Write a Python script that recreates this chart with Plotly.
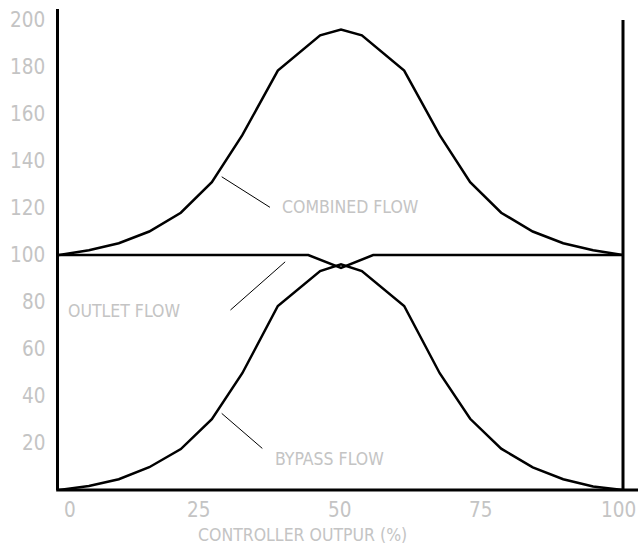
import plotly.graph_objects as go

# ---- data ----
controller_output = [0, 5.3, 10.6, 16.0, 21.6, 27.1, 32.5, 38.8, 46.3, 50,
                     53.7, 61.2, 67.5, 72.9, 78.4, 84.0, 89.4, 94.7, 100]
combined_flow = [100, 102, 105, 110, 118, 131, 151, 178.5, 193.5, 196,
                 193.5, 178.5, 151, 131, 118, 110, 105, 102, 100]
bypass_flow = [0, 1.7, 4.6, 9.7, 17.4, 30.1, 49.7, 78.3, 93.2, 96,
               93.2, 78.3, 49.7, 30.3, 17.6, 9.6, 4.6, 1.5, 0]
outlet_x = [0, 44.2, 50, 55.7, 100]
outlet_flow = [100, 100, 94.5, 100, 100]

x_ticks = [0, 25, 50, 75, 100]
y_ticks = [20, 40, 60, 80, 100, 120, 140, 160, 180, 200]

Y_MAX = 204.7
FRAME_TOP = 200

FONT = "DejaVu Sans Condensed, Liberation Sans Narrow, sans-serif"
GRAY = "#c4c4c4"
LINE = dict(color="black", width=2.5)

fig = go.Figure()
fig.add_trace(go.Scatter(x=controller_output, y=combined_flow, mode="lines",
                         line=LINE, hoverinfo="skip"))
fig.add_trace(go.Scatter(x=controller_output, y=bypass_flow, mode="lines",
                         line=LINE, hoverinfo="skip"))
fig.add_trace(go.Scatter(x=outlet_x, y=outlet_flow, mode="lines",
                         line=LINE, hoverinfo="skip"))

tick_font = dict(family=FONT, size=20.5, color=GRAY)
annotations = []
for v in y_ticks:
    annotations.append(dict(x=0, y=v, xref="x", yref="y", text=str(v),
                            showarrow=False, xanchor="right", yanchor="middle",
                            xshift=-12, font=tick_font))
for v in x_ticks:
    if v == x_ticks[0]:
        anchor, shift = "left", 3
    elif v == x_ticks[-1]:
        anchor, shift = "right", 15
    else:
        anchor, shift = "center", -2
    annotations.append(dict(x=v, y=0, xref="x", yref="y", text=str(v),
                            showarrow=False, xanchor=anchor, yanchor="middle",
                            xshift=shift, yshift=-20, font=tick_font))

label_font = dict(family=FONT, size=17.5, color=GRAY)
annotations += [
    dict(x=43.1, y=0, xref="x", yref="y", text="CONTROLLER OUTPUR (%)",
         showarrow=False, xanchor="center", yanchor="middle", yshift=-45, font=label_font),
    dict(x=39.2, y=120.4, xref="x", yref="y", text="COMBINED FLOW",
         showarrow=False, xanchor="left", yanchor="middle", font=label_font),
    dict(x=1.2, y=76.0, xref="x", yref="y", text="OUTLET FLOW",
         showarrow=False, xanchor="left", yanchor="middle", font=label_font),
    dict(x=37.9, y=13.3, xref="x", yref="y", text="BYPASS FLOW",
         showarrow=False, xanchor="left", yanchor="middle", font=label_font),
]

leader = dict(color="black", width=1)
shapes = [
    dict(type="line", xref="x", yref="y", x0=28.85, y0=133.3, x1=37.4, y1=120.3, line=leader),
    dict(type="line", xref="x", yref="y", x0=30.4, y0=76.6, x1=40.1, y1=97.1, line=leader),
    dict(type="line", xref="x", yref="y", x0=28.85, y0=32.6, x1=36.05, y1=17.7, line=leader),
    # right frame line (unclipped) and bottom baseline running to the page edge
    dict(type="line", xref="x domain", yref="y domain", x0=1, y0=0, x1=1,
         y1=FRAME_TOP / Y_MAX, line=dict(color="black", width=3)),
    dict(type="line", xref="paper", yref="paper", x0=-0.005, y0=0, x1=1.03, y1=0,
         line=dict(color="black", width=3)),
]

fig.update_layout(
    width=638, height=548,
    margin=dict(l=59, r=15, t=9, b=58),
    paper_bgcolor="white", plot_bgcolor="white",
    showlegend=False,
    annotations=annotations,
    shapes=shapes,
    xaxis=dict(range=[0, 100], showgrid=False, zeroline=False, showticklabels=False,
               ticks="", showline=False, fixedrange=True),
    yaxis=dict(range=[0, Y_MAX], showgrid=False, zeroline=False, showticklabels=False,
               ticks="", showline=True, linecolor="black", linewidth=3, fixedrange=True),
)

fig.write_html(
    "out.html",
    config={"displayModeBar": False},
    post_script="document.body.style.margin='0';document.body.style.overflow='hidden';",
)
